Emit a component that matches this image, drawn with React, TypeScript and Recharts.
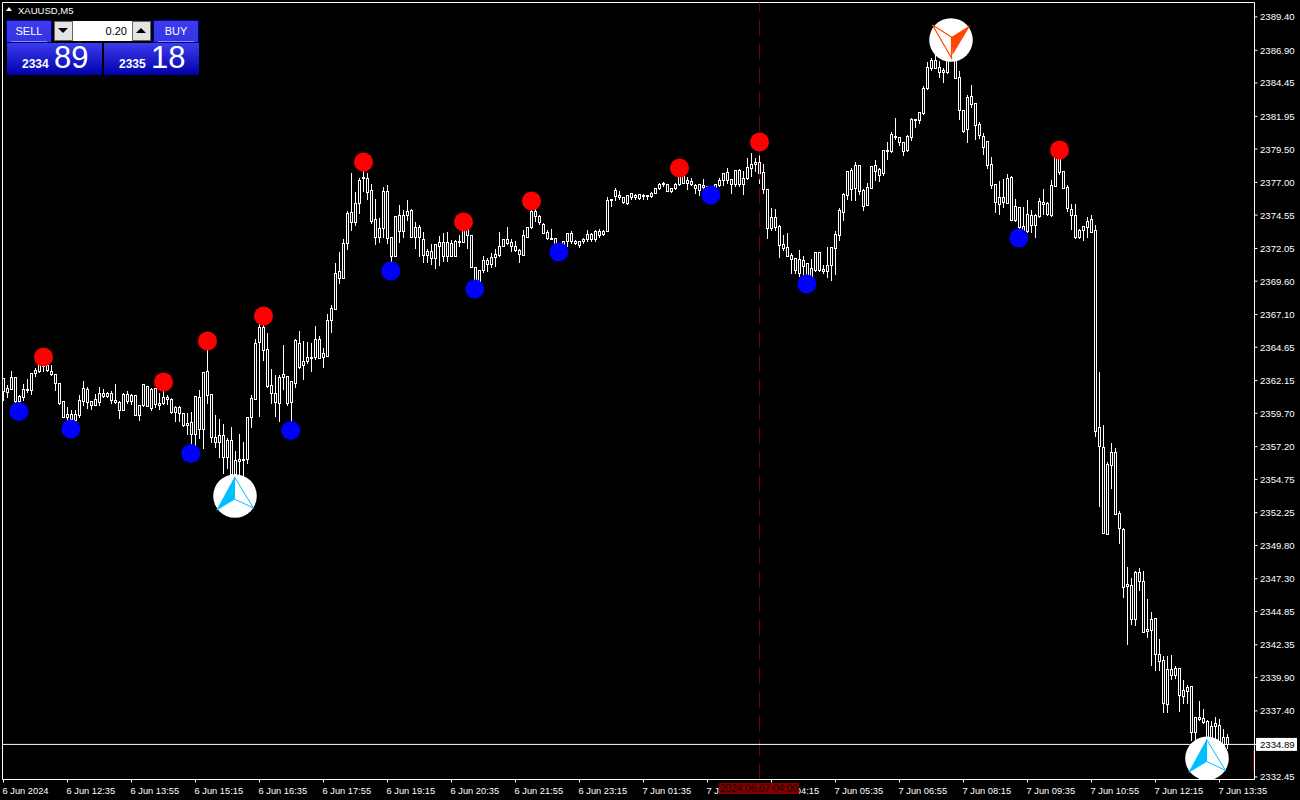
import { Bar, ComposedChart, ReferenceLine, Scatter, XAxis, YAxis } from 'recharts';

const FONT = '"Liberation Sans", sans-serif';
const WIDTH = 1300;
const HEIGHT = 800;

// body direction cannot be told on this chart, every candle is a white outline with black inside
const highs = [
  2362.39,2361.87,2362.94,2362.39,2361.14,2361.94,2362.32,2362.82,2363.14,2363.69,2363.82,2363.62,2363.37,2362.62,2361.94,2360.59,
  2360.24,2359.99,2359.99,2361.14,2362.19,2361.74,2360.69,2361.19,2361.74,2361.57,2361.39,2361.44,2361.94,2360.69,2361.27,2361.44,
  2361.19,2361.14,2360.39,2361.87,2361.82,2361.64,2361.64,2361.32,2361.94,2361.14,2360.89,2360.32,2360.32,2359.74,2359.82,2359.87,
  2360.99,2361.49,2362.87,2365.02,2361.12,2359.64,2359.32,2358.94,2357.94,2358.74,2356.94,2358.19,2357.64,2359.44,2361.14,2365.32,
  2366.82,2366.94,2365.82,2363.07,2362.64,2362.64,2364.89,2362.52,2362.19,2365.32,2365.94,2365.19,2365.12,2365.07,2366.32,2365.57,
  2364.64,2367.24,2367.89,2371.06,2371.86,2372.81,2374.93,2377.76,2376.36,2377.43,2378.43,2377.76,2376.93,2375.81,2374.38,2376.76,
  2376.88,2372.88,2374.46,2375.36,2374.98,2375.73,2375.06,2374.11,2373.88,2373.33,2372.11,2372.43,2372.36,2373.03,2373.26,2373.33,
  2372.73,2372.73,2373.13,2373.93,2373.63,2373.03,2370.68,2370.48,2371.53,2371.38,2371.76,2372.06,2373.33,2372.86,2373.71,2372.81,
  2372.68,2372.06,2373.48,2373.73,2375.56,2375.23,2374.63,2374.03,2373.48,2373.56,2372.81,2372.43,2372.68,2373.23,2373.43,2372.76,
  2372.68,2372.88,2373.51,2373.31,2373.48,2373.56,2373.48,2375.98,2375.81,2376.63,2376.43,2375.98,2376.08,2376.28,2376.23,2376.21,
  2376.23,2376.03,2376.36,2376.66,2377.03,2377.11,2376.93,2376.66,2377.03,2378.01,2377.68,2377.48,2377.43,2376.93,2376.93,2377.31,
  2376.81,2376.73,2376.98,2377.38,2377.81,2378.13,2377.31,2377.93,2378.06,2377.93,2378.88,2379.28,2378.88,2379.93,2378.48,2376.58,
  2375.13,2375.08,2373.88,2373.13,2373.26,2371.81,2371.43,2371.98,2371.56,2371.06,2371.31,2371.83,2371.86,2370.86,2372.23,2372.23,
  2373.43,2375.13,2376.25,2377.85,2378.13,2378.60,2378.30,2376.60,2377.05,2378.30,2378.73,2378.18,2379.48,2380.10,2380.85,2381.90,
  2380.50,2380.10,2380.63,2381.90,2381.75,2382.38,2384.30,2386.10,2386.43,2386.60,2386.18,2385.68,2386.55,2387.68,2387.80,2385.43,
  2382.48,2383.63,2384.35,2383.00,2381.60,2380.80,2380.10,2378.98,2376.85,2377.18,2377.35,2377.68,2377.55,2375.80,2375.23,2375.25,
  2375.75,2374.98,2374.68,2375.88,2376.60,2375.60,2377.25,2379.10,2379.35,2377.83,2376.90,2375.48,2375.43,2373.55,2373.80,2374.48,
  2374.60,2373.89,2362.87,2358.89,2356.12,2357.52,2357.14,2352.46,2351.21,2348.26,2347.46,2347.96,2348.16,2347.96,2345.84,2344.91,
  2344.41,2342.84,2341.59,2341.59,2341.66,2340.84,2340.71,2339.79,2339.41,2339.26,2336.96,2338.21,2337.59,2336.76,2336.71,2337.04,2336.84,2336.09,2335.76,
];

const bodyTops = [
  2362.32,2361.57,2362.39,2362.39,2360.99,2361.49,2361.52,2362.69,2362.94,2363.52,2363.44,2363.29,2362.89,2362.62,2361.94,2360.59,
  2359.62,2359.62,2359.62,2360.67,2361.57,2361.49,2360.59,2360.74,2361.19,2361.19,2361.19,2361.24,2360.67,2360.54,2361.14,2361.12,
  2361.04,2361.07,2360.29,2361.87,2361.74,2361.49,2361.57,2360.44,2360.94,2360.94,2360.74,2360.14,2360.14,2359.74,2358.99,2359.07,
  2360.99,2360.89,2362.82,2362.89,2361.12,2357.94,2358.04,2358.04,2357.69,2357.69,2356.19,2356.24,2356.24,2359.39,2360.82,2364.99,
  2366.19,2366.19,2364.49,2361.79,2361.24,2362.39,2362.62,2362.52,2362.12,2365.19,2364.94,2363.64,2363.89,2363.89,2365.24,2365.24,
  2364.19,2366.69,2367.57,2370.23,2370.33,2372.43,2374.68,2374.76,2375.43,2377.16,2377.38,2377.31,2376.43,2374.23,2373.56,2376.36,
  2376.36,2372.88,2374.46,2374.53,2374.53,2374.83,2374.91,2373.68,2373.63,2372.73,2371.83,2371.83,2372.36,2372.51,2372.51,2372.51,
  2372.43,2372.58,2372.58,2373.56,2373.48,2373.03,2370.68,2370.41,2371.16,2371.16,2371.38,2371.61,2372.26,2372.76,2372.73,2372.51,
  2372.21,2371.96,2373.03,2373.63,2374.83,2374.83,2374.46,2373.86,2373.26,2372.86,2372.81,2372.18,2372.63,2373.23,2373.23,2372.63,
  2372.58,2372.73,2373.11,2373.11,2373.36,2373.36,2373.36,2375.66,2375.73,2376.41,2376.03,2375.88,2376.03,2376.18,2376.03,2376.13,
  2376.08,2376.03,2376.18,2376.56,2376.86,2376.93,2376.91,2376.56,2376.86,2377.68,2377.61,2377.21,2377.13,2376.83,2376.88,2376.83,
  2376.71,2376.66,2376.88,2377.16,2377.71,2377.78,2377.23,2377.91,2377.93,2377.31,2378.13,2378.36,2378.53,2378.53,2377.76,2376.51,
  2374.38,2374.38,2373.73,2372.36,2372.16,2371.53,2371.31,2371.23,2371.16,2370.93,2370.56,2371.78,2371.78,2370.48,2370.78,2372.18,
  2373.13,2374.93,2376.10,2377.85,2377.93,2378.30,2378.30,2376.43,2376.63,2378.20,2378.30,2378.03,2379.43,2379.43,2380.63,2380.50,
  2380.40,2380.05,2380.48,2381.75,2381.75,2382.30,2384.05,2385.63,2386.18,2386.18,2385.68,2385.43,2386.55,2387.43,2387.43,2384.88,
  2382.43,2383.43,2383.48,2382.93,2381.35,2380.48,2380.10,2378.35,2376.85,2375.88,2375.88,2377.35,2377.40,2375.23,2375.13,2373.73,
  2374.60,2374.53,2374.53,2375.60,2375.50,2375.45,2376.78,2379.10,2379.10,2377.83,2376.63,2374.98,2374.55,2373.43,2373.73,2374.13,
  2374.25,2373.44,2358.64,2357.19,2355.87,2356.77,2356.77,2352.24,2351.01,2346.89,2346.84,2347.81,2347.81,2347.14,2343.51,2344.26,
  2344.36,2341.64,2341.19,2340.54,2340.51,2340.59,2340.59,2338.96,2339.16,2339.24,2336.91,2336.91,2336.89,2336.64,2336.26,2336.46,2336.36,2335.41,2335.46,
];

const bodyBottoms = [
  2361.39,2361.32,2361.54,2360.64,2360.59,2360.94,2361.44,2361.44,2362.74,2362.89,2363.27,2362.94,2362.67,2361.94,2360.49,2359.44,
  2359.44,2359.29,2359.19,2359.57,2360.62,2360.52,2360.34,2360.34,2360.57,2361.02,2361.02,2360.69,2360.57,2359.97,2359.97,2360.62,
  2360.64,2359.59,2359.59,2360.29,2360.24,2360.12,2360.39,2360.34,2360.44,2360.74,2359.77,2359.77,2359.74,2358.84,2358.84,2358.14,
  2358.14,2358.49,2358.49,2361.09,2357.94,2357.57,2357.57,2356.39,2356.39,2355.12,2355.12,2356.09,2356.22,2356.24,2359.39,2360.74,
  2365.07,2364.44,2361.74,2361.24,2360.57,2360.49,2362.39,2360.49,2360.54,2361.94,2363.19,2363.32,2363.64,2363.84,2363.89,2363.87,
  2363.94,2364.02,2366.69,2367.51,2369.86,2369.86,2372.48,2374.06,2374.06,2375.43,2377.31,2376.31,2374.13,2372.88,2372.93,2373.56,
  2372.81,2371.51,2371.51,2373.38,2373.38,2374.58,2372.93,2372.93,2372.88,2371.58,2371.58,2371.36,2371.36,2372.26,2371.51,2371.46,
  2371.51,2371.51,2372.56,2372.51,2373.03,2370.68,2369.13,2369.11,2370.41,2370.91,2370.91,2371.38,2371.53,2372.26,2372.48,2372.21,
  2371.96,2371.66,2371.58,2372.88,2373.63,2374.46,2374.01,2373.23,2372.81,2372.73,2371.81,2371.73,2372.21,2372.63,2372.63,2372.43,
  2372.31,2372.63,2372.73,2372.73,2372.78,2373.08,2373.16,2373.38,2375.68,2375.98,2375.91,2375.51,2375.48,2375.93,2375.88,2375.86,
  2375.98,2375.96,2375.96,2376.23,2376.56,2376.86,2376.38,2376.38,2376.56,2376.86,2376.98,2376.96,2376.86,2376.58,2376.46,2376.66,
  2376.61,2376.36,2376.31,2376.81,2377.16,2377.18,2376.86,2376.86,2376.91,2376.91,2377.31,2378.11,2378.36,2377.68,2376.51,2373.61,
  2373.56,2373.63,2372.28,2372.08,2371.48,2371.28,2370.46,2370.18,2370.76,2369.48,2369.53,2370.43,2370.43,2370.38,2370.38,2370.83,
  2372.05,2373.05,2374.80,2376.05,2376.50,2376.55,2376.35,2375.25,2375.30,2376.58,2377.88,2377.55,2377.70,2379.38,2379.38,2380.38,
  2380.00,2379.38,2379.43,2380.43,2381.70,2381.70,2382.23,2384.10,2385.60,2385.60,2385.30,2385.30,2385.30,2386.38,2384.85,2382.43,
  2380.85,2380.98,2382.88,2381.30,2380.55,2379.68,2378.30,2376.80,2375.55,2375.40,2375.50,2375.48,2374.18,2374.18,2373.68,2373.38,
  2373.35,2373.80,2373.80,2374.48,2375.40,2374.63,2374.58,2376.75,2377.80,2376.60,2375.05,2374.53,2372.88,2372.90,2373.43,2373.63,
  2373.30,2358.39,2357.27,2350.74,2350.69,2355.82,2352.19,2351.14,2346.71,2346.79,2344.31,2344.31,2347.16,2343.34,2343.41,2343.49,
  2341.64,2341.16,2338.01,2337.89,2340.09,2340.09,2338.56,2338.54,2338.89,2335.84,2335.79,2336.79,2336.59,2334.46,2334.46,2336.26,2334.59,2334.59,2334.89,
];

const lows = [
  2360.69,2360.94,2361.54,2360.19,2359.74,2360.69,2361.32,2361.14,2362.49,2362.82,2362.87,2362.87,2362.57,2361.44,2360.39,2359.44,
  2359.14,2358.39,2358.89,2359.44,2360.32,2360.07,2359.99,2360.29,2360.32,2360.89,2360.89,2360.44,2360.44,2359.34,2359.97,2360.44,
  2360.39,2359.59,2359.19,2360.24,2360.24,2359.94,2360.19,2360.04,2360.39,2360.39,2359.74,2359.14,2359.14,2358.74,2358.14,2356.57,
  2357.14,2357.82,2357.07,2360.49,2357.57,2357.14,2356.44,2355.19,2355.57,2354.94,2355.07,2355.07,2354.94,2355.94,2358.69,2360.74,
  2359.49,2363.69,2361.64,2360.44,2359.52,2359.14,2361.49,2360.32,2358.32,2361.69,2363.07,2362.27,2363.44,2362.87,2363.77,2363.87,
  2363.19,2364.02,2365.82,2367.51,2369.48,2369.86,2372.01,2373.43,2373.81,2374.68,2376.38,2375.76,2373.93,2372.38,2372.56,2372.88,
  2372.43,2370.23,2371.51,2372.51,2372.93,2374.18,2372.88,2372.11,2371.48,2371.06,2371.06,2370.88,2370.61,2370.83,2371.13,2371.13,
  2371.51,2371.51,2372.26,2372.51,2372.11,2370.68,2368.88,2369.01,2370.31,2370.38,2370.68,2370.76,2371.51,2372.26,2372.38,2371.88,
  2371.88,2371.06,2371.58,2372.88,2373.56,2374.08,2373.86,2373.18,2372.73,2372.73,2371.63,2371.63,2371.73,2372.23,2372.43,2372.36,
  2372.16,2372.48,2372.61,2372.63,2372.63,2372.88,2373.06,2373.33,2375.23,2375.68,2375.73,2375.48,2375.38,2375.73,2375.76,2375.78,
  2375.78,2375.78,2375.88,2376.18,2376.48,2376.73,2376.36,2376.31,2376.48,2376.78,2376.93,2376.51,2376.81,2376.23,2376.06,2376.43,
  2376.51,2375.93,2375.98,2376.73,2376.81,2376.98,2376.23,2376.73,2376.73,2376.13,2377.23,2377.48,2377.86,2376.93,2376.23,2372.86,
  2373.43,2373.43,2371.43,2371.93,2371.48,2370.23,2370.18,2369.98,2370.06,2369.31,2369.43,2370.38,2370.38,2370.23,2369.93,2369.68,
  2370.13,2372.68,2374.18,2375.73,2375.68,2375.68,2376.13,2374.93,2375.30,2376.58,2377.18,2377.10,2377.55,2378.75,2379.30,2380.25,
  2379.80,2379.05,2379.35,2380.18,2381.18,2381.43,2382.13,2384.00,2385.43,2385.60,2384.88,2384.55,2385.18,2386.18,2384.80,2381.75,
  2380.80,2380.05,2382.68,2380.25,2380.30,2379.13,2378.10,2376.60,2374.80,2374.63,2375.18,2375.43,2374.18,2374.10,2372.75,2373.00,
  2373.25,2373.30,2372.93,2374.43,2374.63,2374.55,2374.50,2376.75,2377.60,2376.55,2374.88,2373.50,2372.85,2372.80,2372.68,2372.93,
  2373.25,2357.99,2352.74,2350.74,2350.64,2354.12,2352.19,2349.96,2345.96,2342.41,2343.91,2343.84,2346.46,2343.34,2342.91,2340.84,
  2340.46,2340.46,2337.34,2337.34,2339.76,2339.84,2337.41,2338.01,2338.01,2335.21,2335.01,2336.71,2336.46,2333.96,2334.21,2334.59,2334.59,2334.46,2334.59,
];

// one time label every 16 bars
const timeLabels = [
  '6 Jun 2024', '6 Jun 12:35', '6 Jun 13:55', '6 Jun 15:15', '6 Jun 16:35', '6 Jun 17:55', '6 Jun 19:15', '6 Jun 20:35',
  '6 Jun 21:55', '6 Jun 23:15', '7 Jun 01:35', '7 Jun 02:55', '7 Jun 04:15', '7 Jun 05:35', '7 Jun 06:55', '7 Jun 08:15',
  '7 Jun 09:35', '7 Jun 10:55', '7 Jun 12:15', '7 Jun 13:35',
];

const currentPrice = 2334.89;
const priceTicks = [
  2389.4, 2386.9, 2384.45, 2381.95, 2379.5, 2377, 2374.55, 2372.05, 2369.6, 2367.1, 2364.65, 2362.15,
  2359.7, 2357.2, 2354.75, 2352.25, 2349.8, 2347.3, 2344.85, 2342.35, 2339.9, 2337.4, currentPrice, 2332.45,
];

const sellIndex = [10, 40, 51, 65, 90, 115, 132, 169, 189, 264];
const sellPrice = [2363.92, 2362.05, 2365.12, 2366.99, 2378.53, 2374.04, 2375.61, 2378.08, 2380.03, 2379.43];
const buyIndex = [4, 17, 47, 72, 97, 118, 139, 177, 201, 254];
const buyPrice = [2359.84, 2358.52, 2356.69, 2358.41, 2370.36, 2369.01, 2371.79, 2376.06, 2369.39, 2372.84];
const bigBuyIndex = [58, 301];
const bigBuyPrice = [2353.5, 2333.84];
const bigSellIndex = [237];
const bigSellPrice = [2387.67];

const selectedBar = 189;
const BAR_STEP = 16;
const X_MIN = -0.25;
const X_MAX = 312.75;
const Y_MIN = 2332.26;
const Y_MAX = 2390.48;

const candles = highs.map((high, index) => ({
  index,
  high,
  low: lows[index],
  top: bodyTops[index],
  bottom: bodyBottoms[index],
}));

const pairs = (xs: number[], ys: number[]) => xs.map((index, i) => ({ index, price: ys[i] }));

const xTicks = timeLabels.map((_, i) => i * BAR_STEP);

function Candle(props: any) {
  const { x, y, width, height, payload } = props;
  const h = Math.abs(height);
  const perUnit = h / (payload.high - payload.low);
  const cx = Math.floor(x + width / 2) + 0.5;
  const snap = (v: number) => Math.round(y + (payload.high - v) * perUnit) + 0.5;
  const bodyY = snap(payload.top);
  const bodyEnd = Math.max(snap(payload.bottom), bodyY + 1);
  return (
    <g shapeRendering="crispEdges">
      <line x1={cx} x2={cx} y1={snap(payload.high)} y2={snap(payload.low)} stroke="#fff" />
      <rect x={cx - 1} y={bodyY} width={2} height={bodyEnd - bodyY} fill="#000" stroke="#fff" />
    </g>
  );
}

function Dot(props: any) {
  const { cx, cy, fill, shift = 0 } = props;
  return <circle cx={cx + shift} cy={cy} r={9.5} fill={fill} />;
}

function BigBuy(props: any) {
  const { cx, cy } = props;
  const p = (dx: number, dy: number) => `${cx + dx},${cy + dy}`;
  return (
    <g>
      <circle cx={cx - 0.5} cy={cy} r={21.8} fill="#fff" />
      <polygon points={`${p(-1, -19)} ${p(-1, 3)} ${p(-19, 14)}`} fill="#00bfff" />
      <polygon
        points={`${p(-1, -19)} ${p(-1, 3)} ${p(18, 12)}`}
        fill="#fff"
        stroke="#00bfff"
        strokeWidth={1}
      />
      <line x1={cx - 1} y1={cy + 3} x2={cx - 19} y2={cy + 14} stroke="#00bfff" />
    </g>
  );
}

function BigSell(props: any) {
  const { cx, cy } = props;
  const p = (dx: number, dy: number) => `${cx + dx},${cy + dy}`;
  return (
    <g>
      <circle cx={cx - 0.5} cy={cy} r={21.8} fill="#fff" />
      <polygon points={`${p(19, -15)} ${p(0, -3)} ${p(1, 15)}`} fill="#ff4500" />
      <polygon points={`${p(-19, -15)} ${p(0, -3)} ${p(0, 18)}`} fill="#fff" stroke="#ff4500" strokeWidth={1.2} />
    </g>
  );
}

function PriceTick(props: any) {
  const { y, payload } = props;
  const isCurrent = payload.value === currentPrice;
  return (
    <g>
      {isCurrent && <rect x={1256} y={y - 6.5} width={41} height={13} fill="#fff" />}
      <text
        x={1260}
        y={y + 3.5}
        fontFamily={FONT}
        fontSize={9.6}
        fill={isCurrent ? '#000' : '#fff'}
      >
        {payload.value.toFixed(2)}
      </text>
    </g>
  );
}

function TimeTick(props: any) {
  const { x, y, payload } = props;
  return (
    <text x={x - 1} y={y + 9} fontFamily={FONT} fontSize={9.3} fill="#fff">
      {timeLabels[payload.value / BAR_STEP]}
    </text>
  );
}

const gradient = 'linear-gradient(#3c3cf0, #0000aa)';

const box = (left: number, top: number, width: number, height: number): React.CSSProperties => ({
  position: 'absolute',
  left,
  top,
  width,
  height,
  boxSizing: 'border-box',
});

function TradePanel() {
  const base: React.CSSProperties = { fontFamily: FONT, color: '#fff' };
  const header = (left: number, label: string) => (
    <div
      style={{
        ...box(left, 20, 46, 23),
        ...base,
        background: 'linear-gradient(#3c3cf0, #3434e0)',
        border: '1px solid #000090',
        fontSize: 11,
        textAlign: 'center',
        lineHeight: '20px',
      }}
    >
      {label}
      <div style={{ ...box(4, 20, 36, 1), background: '#8c8cf0' }} />
    </div>
  );
  const quote = (left: number, small: string, big: string) => (
    <div style={{ ...box(left, 43, 95, 32), ...base, background: gradient }}>
      <span style={{ position: 'absolute', left: 15, top: 14, fontSize: 12, fontWeight: 700 }}>{small}</span>
      <span style={{ position: 'absolute', left: 47, top: -3, fontSize: 31 }}>{big}</span>
    </div>
  );
  const arrow = (left: number, up: boolean) => (
    <div style={{ ...box(left, 21, 19, 20), background: '#e4e4e4', border: '1px solid #666' }}>
      <div
        style={{
          position: 'absolute',
          left: 3,
          top: 6,
          width: 0,
          height: 0,
          borderLeft: '5px solid transparent',
          borderRight: '5px solid transparent',
          ...(up ? { borderBottom: '5px solid #000' } : { borderTop: '5px solid #000' }),
        }}
      />
    </div>
  );
  return (
    <>
      <div
        style={{
          position: 'absolute',
          left: 6,
          top: 7,
          width: 0,
          height: 0,
          borderLeft: '3.5px solid transparent',
          borderRight: '3.5px solid transparent',
          borderBottom: '4px solid #fff',
        }}
      />
      <div style={{ ...box(18, 4, 80, 13), ...base, fontSize: 9.5, lineHeight: '13px' }}>XAUUSD,M5</div>
      {header(6, 'SELL')}
      {header(153, 'BUY')}
      {quote(7, '2334', '89')}
      {quote(104, '2335', '18')}
      {arrow(54, false)}
      {arrow(132, true)}
      <div
        style={{
          ...box(73, 21, 59, 20),
          background: '#fff',
          color: '#000',
          fontFamily: FONT,
          fontSize: 11,
          textAlign: 'right',
          lineHeight: '20px',
          paddingRight: 5,
        }}
      >
        0.20
      </div>
    </>
  );
}

export default function App() {
  return (
    <div style={{ position: 'fixed', left: 0, top: 0, width: WIDTH, height: HEIGHT, background: '#000', overflow: 'hidden' }}>
      <ComposedChart
        width={WIDTH}
        height={HEIGHT}
        data={candles}
        margin={{ top: 2.5, left: 2.5, right: 0, bottom: 0 }}
      >
        <XAxis
          dataKey="index"
          type="number"
          domain={[X_MIN, X_MAX]}
          allowDataOverflow
          ticks={xTicks}
          interval={0}
          height={20.5}
          stroke="#fff"
          tickSize={3}
          tick={TimeTick}
        />
        <YAxis
          orientation="right"
          type="number"
          domain={[Y_MIN, Y_MAX]}
          allowDataOverflow
          ticks={priceTicks}
          interval={0}
          width={45.5}
          stroke="#fff"
          tickSize={3}
          tick={PriceTick}
        />
        <ReferenceLine x={X_MIN} stroke="#fff" />
        <ReferenceLine y={Y_MAX} stroke="#fff" />
        <ReferenceLine x={selectedBar} stroke="#7a0000" strokeDasharray="16 8" />
        <ReferenceLine
          segment={[
            { x: X_MAX - 0.25, y: 2334.45 },
            { x: X_MAX - 0.25, y: 2332.7 },
          ]}
          stroke="#7a0000"
        />
        <ReferenceLine y={currentPrice} stroke="#fff" />
        <Scatter data={pairs(sellIndex, sellPrice)} dataKey="price" isAnimationActive={false} shape={<Dot fill="#ff0000" />} />
        <Scatter data={pairs(buyIndex, buyPrice)} dataKey="price" isAnimationActive={false} shape={<Dot fill="#0000ff" shift={-0.7} />} />
        <Scatter data={pairs(bigBuyIndex, bigBuyPrice)} dataKey="price" isAnimationActive={false} shape={<BigBuy />} />
        <Scatter data={pairs(bigSellIndex, bigSellPrice)} dataKey="price" isAnimationActive={false} shape={<BigSell />} />
        <Bar
          dataKey={(d: any) => [d.low, d.high]}
          barSize={3}
          isAnimationActive={false}
          shape={<Candle />}
        />
      </ComposedChart>
      <TradePanel />
      <div
        style={{
          ...box(719, 783, 80, 11),
          background: '#800000',
          color: '#1c0000',
          fontFamily: FONT,
          fontSize: 10,
          lineHeight: '11px',
          textAlign: 'center',
          whiteSpace: 'nowrap',
        }}
      >
        2024.06.07 04:00
      </div>
    </div>
  );
}
